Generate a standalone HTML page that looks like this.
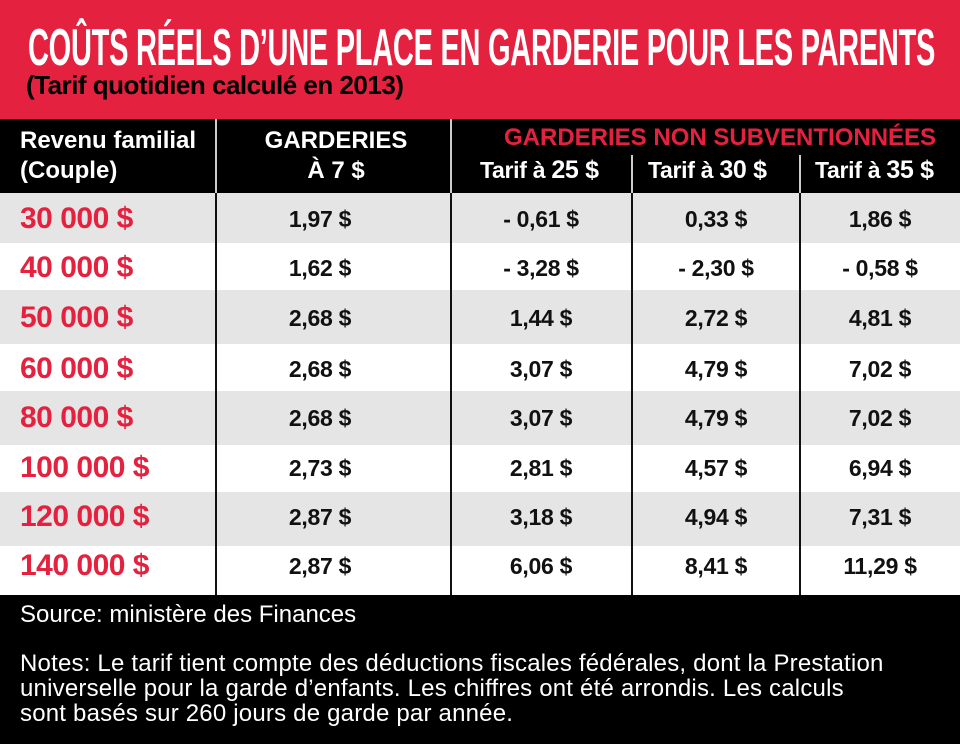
<!DOCTYPE html>
<html><head><meta charset="utf-8">
<style>
body{margin:0;width:960px;height:744px;position:relative;overflow:hidden;background:#fff;font-family:"Liberation Sans",sans-serif;}
.a{position:absolute;white-space:nowrap;}
.red{background:#e4213e;}
.row{position:absolute;left:0;width:960px;}
.g{background:#e5e5e5;}
.inc{position:absolute;left:20px;color:#e4213e;font-weight:bold;font-size:30px;letter-spacing:-0.5px;white-space:nowrap;}
.v{position:absolute;font-weight:bold;font-size:23px;color:#111;transform:translateX(-50%);letter-spacing:-0.3px;white-space:nowrap;}
.vl{position:absolute;width:2px;background:#111;}
</style></head><body>
<div class="a red" style="left:0;top:0;width:960px;height:119px;"></div>
<div class="a" style="left:28px;top:18px;font-size:52px;font-weight:bold;color:#fff;transform:scaleX(0.558);transform-origin:left top;letter-spacing:-0.5px;">COÛTS RÉELS D’UNE PLACE EN GARDERIE POUR LES PARENTS</div>
<div class="a" style="left:26px;top:70px;font-size:26px;font-weight:bold;color:#000;letter-spacing:-0.5px;">(Tarif quotidien calculé en 2013)</div>
<div class="a" style="left:0;top:119px;width:960px;height:74px;background:#000;"></div>
<div class="a" style="left:215px;top:119px;width:2px;height:74px;background:#ccc;"></div>
<div class="a" style="left:450px;top:119px;width:2px;height:74px;background:#ccc;"></div>
<div class="a" style="left:631px;top:155px;width:2px;height:38px;background:#ccc;"></div>
<div class="a" style="left:799px;top:155px;width:2px;height:38px;background:#ccc;"></div>
<div class="a" style="left:20px;top:126px;font-size:24px;font-weight:bold;color:#fff;line-height:30px;">Revenu familial<br>(Couple)</div>
<div class="a" style="left:216px;width:240px;top:126px;font-size:24px;font-weight:bold;color:#fff;line-height:30px;text-align:center;">GARDERIES<br>À 7 $</div>
<div class="a" style="left:504px;top:124px;font-size:24px;font-weight:bold;color:#e4213e;letter-spacing:0px;">GARDERIES NON SUBVENTIONNÉES</div>
<div class="a" style="left:480px;top:156px;font-size:23px;font-weight:bold;color:#fff;letter-spacing:-0.3px;">Tarif à <b style="font-size:25px">25 $</b></div>
<div class="a" style="left:648px;top:156px;font-size:23px;font-weight:bold;color:#fff;letter-spacing:-0.3px;">Tarif à <b style="font-size:25px">30 $</b></div>
<div class="a" style="left:815px;top:156px;font-size:23px;font-weight:bold;color:#fff;letter-spacing:-0.3px;">Tarif à <b style="font-size:25px">35 $</b></div>

<div class="row g" style="top:193px;height:50px"></div>
<div class="row g" style="top:290px;height:54px"></div>
<div class="row g" style="top:391px;height:54px"></div>
<div class="row g" style="top:492px;height:54px"></div>
<div class="vl" style="left:215px;top:193px;height:402px"></div>
<div class="vl" style="left:450px;top:193px;height:402px"></div>
<div class="vl" style="left:631px;top:193px;height:402px"></div>
<div class="vl" style="left:799px;top:193px;height:402px"></div>

<div class="inc" style="top:202px">30 000 $</div>
<div class="inc" style="top:251px">40 000 $</div>
<div class="inc" style="top:301px">50 000 $</div>
<div class="inc" style="top:352px">60 000 $</div>
<div class="inc" style="top:401px">80 000 $</div>
<div class="inc" style="top:451px">100 000 $</div>
<div class="inc" style="top:500px">120 000 $</div>
<div class="inc" style="top:549px">140 000 $</div>

<div style="position:absolute;left:0;top:0">
<div class="v" style="left:320px;top:206px">1,97 $</div><div class="v" style="left:541px;top:206px">- 0,61 $</div><div class="v" style="left:716px;top:206px">0,33 $</div><div class="v" style="left:880px;top:206px">1,86 $</div>
<div class="v" style="left:320px;top:255px">1,62 $</div><div class="v" style="left:541px;top:255px">- 3,28 $</div><div class="v" style="left:716px;top:255px">- 2,30 $</div><div class="v" style="left:880px;top:255px">- 0,58 $</div>
<div class="v" style="left:320px;top:305px">2,68 $</div><div class="v" style="left:541px;top:305px">1,44 $</div><div class="v" style="left:716px;top:305px">2,72 $</div><div class="v" style="left:880px;top:305px">4,81 $</div>
<div class="v" style="left:320px;top:356px">2,68 $</div><div class="v" style="left:541px;top:356px">3,07 $</div><div class="v" style="left:716px;top:356px">4,79 $</div><div class="v" style="left:880px;top:356px">7,02 $</div>
<div class="v" style="left:320px;top:405px">2,68 $</div><div class="v" style="left:541px;top:405px">3,07 $</div><div class="v" style="left:716px;top:405px">4,79 $</div><div class="v" style="left:880px;top:405px">7,02 $</div>
<div class="v" style="left:320px;top:455px">2,73 $</div><div class="v" style="left:541px;top:455px">2,81 $</div><div class="v" style="left:716px;top:455px">4,57 $</div><div class="v" style="left:880px;top:455px">6,94 $</div>
<div class="v" style="left:320px;top:504px">2,87 $</div><div class="v" style="left:541px;top:504px">3,18 $</div><div class="v" style="left:716px;top:504px">4,94 $</div><div class="v" style="left:880px;top:504px">7,31 $</div>
<div class="v" style="left:320px;top:553px">2,87 $</div><div class="v" style="left:541px;top:553px">6,06 $</div><div class="v" style="left:716px;top:553px">8,41 $</div><div class="v" style="left:880px;top:553px">11,29 $</div>
</div>

<div class="a" style="left:0;top:595px;width:960px;height:149px;background:#000;"></div>
<div class="a" style="left:20px;top:601px;font-size:24px;color:#fff;">Source: ministère des Finances</div>
<div class="a" style="left:20px;top:651px;font-size:24px;color:#fff;line-height:25px;letter-spacing:0.2px;">Notes: Le tarif tient compte des déductions fiscales fédérales, dont la Prestation<br>universelle pour la garde d’enfants. Les chiffres ont été arrondis. Les calculs<br>sont basés sur 260 jours de garde par année.</div>
</body></html>
